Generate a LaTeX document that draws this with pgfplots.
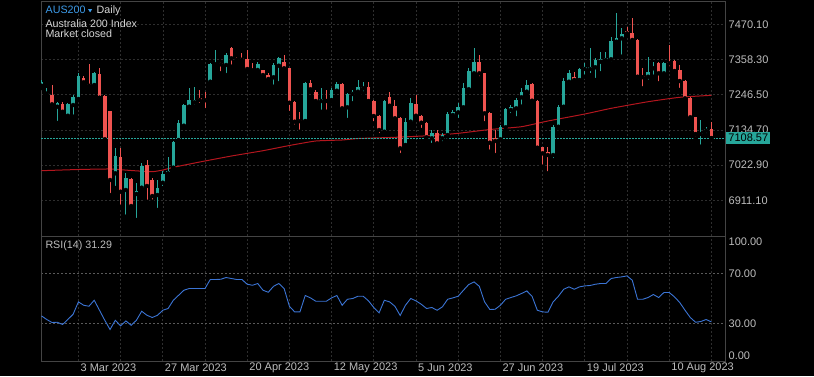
\documentclass[border=0pt]{standalone}
\usepackage{pgfplots}
\pgfplotsset{compat=1.18}
\usepackage{pgfplotstable}
\usepackage{fontspec}
\setmainfont{Liberation Sans}
\definecolor{upc}{HTML}{26A69A}
\definecolor{dnc}{HTML}{EF5350}
\definecolor{mac}{HTML}{B3161E}
\definecolor{rsic}{HTML}{3B74D4}
\definecolor{gridc}{HTML}{2E2E2E}
\definecolor{rsigrid}{HTML}{5A5A5A}
\definecolor{framec}{HTML}{444444}
\definecolor{labc}{HTML}{BDBDBD}
\definecolor{headc}{HTML}{D6D6D6}
\definecolor{tickerc}{HTML}{3D9BE9}

% up (teal) candles: index open high low close
\pgfplotstableread{
x o h l c
-7 7275.1 7293.2 7267.8 7287.8
-6 7250.3 7267.8 7239.2 7253.5
-4 7208.4 7224.3 7156.7 7219.2
-2 7179.8 7220.2 7175.7 7217.0
-1 7213.8 7245.6 7176.7 7240.2
0 7232.9 7314.5 7229.7 7306.9
3 7277.3 7319.6 7271.9 7316.4
7 6996.9 7077.3 6950.2 7051.8
9 6943.9 6997.9 6859.1 6982.9
11 6931.2 6966.1 6848.6 6941.6
12 6951.2 7029.6 6943.9 7021.0
15 6928.0 6975.6 6880.3 6949.3
16 6967.0 7004.2 6950.2 6994.7
17 6996.9 7049.6 6994.7 7004.2
18 7014.7 7099.5 7013.7 7095.4
19 7102.7 7166.2 7099.5 7156.7
20 7148.1 7217.0 7144.0 7213.8
21 7208.4 7266.9 7207.5 7229.7
22 7222.4 7271.9 7208.4 7229.7
25 7287.8 7348.2 7282.7 7343.1
26 7343.1 7388.5 7340.9 7346.3
28 7340.9 7379.0 7309.1 7372.6
34 7325.0 7351.3 7319.6 7344.0
37 7301.8 7346.3 7271.9 7340.9
38 7338.6 7367.2 7282.7 7362.1
43 7163.0 7287.8 7160.8 7284.6
46 7226.5 7266.9 7192.5 7232.9
48 7229.7 7266.9 7224.3 7261.5
49 7259.2 7287.8 7256.1 7280.5
51 7206.5 7251.0 7166.2 7248.8
52 7248.8 7261.5 7219.2 7256.1
53 7256.1 7293.2 7251.0 7270.0
54 7266.9 7287.8 7251.0 7270.0
58 7129.0 7229.7 7123.9 7226.5
62 7086.8 7171.6 7081.4 7160.8
63 7160.8 7235.1 7150.3 7221.1
67 7108.1 7134.4 7086.8 7125.8
69 7108.1 7123.9 7092.2 7118.5
70 7118.5 7192.5 7113.1 7185.2
71 7182.1 7197.9 7176.7 7192.5
72 7190.6 7219.2 7166.2 7208.4
73 7206.5 7282.7 7197.9 7266.9
74 7263.7 7330.4 7261.5 7322.8
75 7314.5 7393.9 7303.7 7349.4
80 7104.9 7150.3 7102.7 7143.0
81 7143.0 7203.3 7134.4 7200.2
82 7197.9 7213.8 7182.1 7206.5
83 7203.3 7235.1 7171.6 7229.7
84 7238.3 7266.9 7208.4 7256.1
85 7256.1 7293.2 7251.0 7277.3
90 7055.0 7150.3 7039.1 7144.9
91 7144.9 7213.8 7139.8 7208.4
92 7208.4 7298.6 7203.3 7291.0
93 7287.8 7325.0 7282.7 7316.4
95 7293.2 7330.4 7287.8 7327.2
96 7328.2 7346.3 7303.7 7335.5
97 7328.2 7393.9 7309.1 7335.5
98 7333.6 7362.1 7293.2 7356.7
99 7351.3 7383.1 7314.5 7359.0
100 7356.7 7383.1 7351.3 7364.0
101 7359.0 7430.7 7346.3 7417.1
102 7414.9 7505.1 7409.8 7427.6
103 7425.7 7457.4 7367.2 7439.3
108 7303.7 7367.2 7287.8 7317.7
109 7330.4 7351.3 7303.7 7335.5
111 7314.5 7351.3 7309.1 7348.2
118 7121.7 7166.2 7081.4 7125.8
119 7132.2 7144.9 7118.5 7137.6
}\upt

% down (red) candles: index open high low close
\pgfplotstableread{
x o h l c
-5 7245.6 7277.3 7204.3 7216.0
-3 7217.0 7223.4 7182.1 7192.5
1 7300.5 7305.9 7277.3 7285.9
2 7279.6 7344.0 7271.9 7275.1
4 7311.3 7331.3 7236.1 7237.0
5 7242.4 7245.6 7102.7 7104.9
6 7194.8 7196.0 6928.0 6975.6
8 7048.7 7077.3 6890.8 6938.5
10 6978.8 6982.0 6889.9 6893.0
13 7023.3 7039.1 6906.7 6956.6
14 6975.6 6982.0 6906.7 6924.8
23 7235.1 7261.5 7213.8 7229.7
24 7231.9 7256.1 7197.9 7228.8
27 7348.2 7351.3 7314.5 7343.1
29 7393.9 7399.0 7335.5 7362.1
30 7362.1 7366.3 7353.6 7357.7
31 7362.1 7379.0 7347.2 7357.7
32 7359.0 7388.5 7319.6 7328.2
33 7328.2 7346.3 7319.6 7324.0
35 7325.0 7326.0 7303.7 7309.1
36 7309.1 7314.5 7293.2 7296.4
39 7351.3 7372.6 7327.2 7330.4
40 7330.4 7331.3 7188.4 7221.1
41 7224.3 7225.5 7144.9 7160.8
42 7165.5 7192.5 7129.0 7162.4
44 7284.6 7293.2 7256.1 7263.7
45 7256.1 7261.5 7219.2 7226.5
47 7229.7 7261.5 7192.5 7226.5
50 7280.5 7282.7 7197.9 7203.3
55 7270.0 7287.8 7224.3 7226.5
56 7226.5 7229.7 7155.7 7178.9
57 7178.9 7182.1 7118.5 7134.4
59 7238.3 7256.1 7208.4 7211.6
60 7211.6 7229.7 7160.8 7171.6
61 7171.6 7176.7 7055.0 7076.3
64 7216.0 7245.6 7171.6 7179.8
65 7179.8 7182.1 7134.4 7157.6
66 7157.6 7160.8 7102.7 7111.2
68 7125.8 7134.4 7086.8 7092.2
76 7349.4 7372.6 7298.6 7314.5
77 7314.5 7316.0 7155.7 7187.5
78 7187.5 7192.5 7065.5 7094.1
79 7108.1 7134.4 7055.0 7099.5
86 7280.5 7282.7 7224.3 7227.5
87 7227.5 7229.7 7070.9 7078.2
88 7079.5 7081.4 7017.9 7060.4
89 7065.5 7081.4 6996.9 7055.0
94 7301.8 7319.6 7287.8 7293.2
104 7448.8 7462.5 7436.1 7441.5
105 7441.5 7489.2 7414.9 7420.3
106 7420.3 7422.5 7298.6 7303.7
107 7305.3 7330.4 7266.9 7302.1
110 7348.2 7351.3 7282.7 7314.5
112 7351.3 7404.4 7330.4 7346.3
113 7354.5 7356.7 7309.1 7321.8
114 7325.0 7340.9 7261.5 7290.0
115 7290.0 7293.2 7229.7 7235.1
116 7235.1 7240.2 7171.6 7174.8
117 7174.8 7176.7 7108.1 7121.7
120 7136.6 7160.8 7108.1 7108.6
}\dnt

% moving average
\pgfplotstableread{
x v
-7 7005.2
0 7009.0
6 7010.6
10 7005.8
14 7002.0
16 7007.4
18 7015.9
23 7032.8
29 7051.8
35 7068.7
40 7085.2
45 7099.5
50 7102.7
53 7107.4
60 7111.2
67 7116.9
72 7123.9
78 7136.0
84 7144.9
89 7163.0
96 7185.2
101 7203.3
108 7224.3
114 7238.3
120 7244.6
}\mat

% RSI(14)
\pgfplotstableread{
x r
-7 36.1
-6 33.2
-5 30.8
-4 31.0
-3 29.2
-2 33.2
-1 37.4
0 47.3
1 44.6
2 43.8
3 48.6
4 40.6
5 32.6
6 25.2
7 32.6
8 28.1
9 32.1
10 28.6
11 32.6
12 39.8
13 36.6
14 34.8
15 36.6
16 40.6
17 42.0
18 48.6
19 52.6
20 56.6
21 58.0
22 58.0
23 58.0
24 58.0
25 65.2
26 65.2
27 65.4
28 66.8
29 66.0
30 65.2
31 65.2
32 61.4
33 60.6
34 62.0
35 56.6
36 55.0
37 59.8
38 62.0
39 58.0
40 43.8
41 39.3
42 39.3
43 52.4
44 50.5
45 47.8
46 47.8
47 47.8
48 50.5
49 52.4
50 44.6
51 49.4
52 50.0
53 51.8
54 51.8
55 48.1
56 42.8
57 38.5
58 48.6
59 47.3
60 43.8
61 36.4
62 44.6
63 50.0
64 48.1
65 45.4
66 42.0
67 42.8
68 40.6
69 43.3
70 49.4
71 50.5
72 51.8
73 56.6
74 61.2
75 63.3
76 59.8
77 47.3
78 41.2
79 41.4
80 44.6
81 49.4
82 50.8
83 52.1
84 54.0
85 56.1
86 51.8
87 40.6
88 39.3
89 39.0
90 47.3
91 51.8
92 57.4
93 59.3
94 57.4
95 59.3
96 60.1
97 60.4
98 61.4
99 62.0
100 62.0
101 66.0
102 66.8
103 67.3
104 68.1
105 64.6
106 49.4
107 49.4
108 50.8
109 53.2
110 50.8
111 54.8
112 54.8
113 51.3
114 46.8
115 40.6
116 34.8
117 31.0
118 31.6
119 33.2
120 31.29
}\rsit

\begin{document}
\begin{tikzpicture}[x=1pt,y=1pt]
\fill[black] (0,0) rectangle (814,376);
\useasboundingbox (0,0) rectangle (814,376);

\begin{axis}[
  at={(41pt,140pt)}, anchor=south west,
  scale only axis, width=684pt, height=235pt,
  xmin=-7.09, xmax=122.58, ymin=6797.8, ymax=7544.1,
  axis line style={framec, line width=0.8pt},
  xtick={0,8,...,120}, xticklabels={},
  ytick={6911.1,7022.9,7134.7,7246.5,7358.3,7470.1},
  yticklabel pos=right,
  major tick length=0pt,
  xmajorgrids, ymajorgrids,
  major grid style={gridc, dash pattern=on 2pt off 2pt, line width=0.6pt},
  /pgf/number format/assume math mode=true,
  yticklabel style={/pgf/number format/fixed, /pgf/number format/fixed zerofill,
    /pgf/number format/precision=2, /pgf/number format/1000 sep={},
    anchor=west, inner sep=0pt, xshift=3.5pt},
  tick label style={font=\fontsize{11}{13}\selectfont, color=labc},
]
% moving average
\addplot[mac, line width=1pt, smooth, tension=0.3] table[x=x, y=v] {\mat};
% current price line
\addplot[upc, line width=0.7pt, dash pattern=on 1.5pt off 1.5pt] coordinates {(-7.09,7108.57) (122.58,7108.57)};
% wicks
\addplot[only marks, mark=none, forget plot,
  error bars/.cd, y dir=plus, y explicit, error mark=none,
  error bar style={draw=upc, line width=0.9pt}]
  table[x=x, y=l, y error plus expr=\thisrow{h}-\thisrow{l}] {\upt};
\addplot[only marks, mark=none, forget plot,
  error bars/.cd, y dir=plus, y explicit, error mark=none,
  error bar style={draw=dnc, line width=0.9pt}]
  table[x=x, y=l, y error plus expr=\thisrow{h}-\thisrow{l}] {\dnt};
% bodies
\addplot[only marks, mark=none, forget plot,
  error bars/.cd, y dir=plus, y explicit, error mark=none,
  error bar style={draw=upc, line width=3.6pt}]
  table[x=x, y=o, y error plus expr=\thisrow{c}-\thisrow{o}] {\upt};
\addplot[only marks, mark=none, forget plot,
  error bars/.cd, y dir=plus, y explicit, error mark=none,
  error bar style={draw=dnc, line width=3.6pt}]
  table[x=x, y=c, y error plus expr=\thisrow{o}-\thisrow{c}] {\dnt};
\end{axis}

\begin{axis}[
  at={(41pt,15pt)}, anchor=south west,
  scale only axis, width=684pt, height=125pt,
  xmin=-7.09, xmax=122.58, ymin=0, ymax=100,
  axis line style={framec, line width=0.8pt},
  xtick={0,8,...,120}, xticklabels={},
  ytick={30,70}, yticklabels={30.00,70.00},
  extra y ticks={95.4,4.1}, extra y tick labels={100.00,0.00},
  extra y tick style={grid=none},
  extra x ticks={0,16,...,112},
  extra x tick labels={3 Mar 2023,27 Mar 2023,20 Apr 2023,12 May 2023,5 Jun 2023,27 Jun 2023,19 Jul 2023,10 Aug 2023},
  extra x tick style={grid=none, xticklabel style={anchor=west, inner sep=0pt, xshift=2pt, yshift=-6.5pt}},
  yticklabel pos=right,
  major tick length=0pt,
  xmajorgrids, ymajorgrids,
  x grid style={gridc, dash pattern=on 2pt off 2pt, line width=0.6pt},
  y grid style={rsigrid, dash pattern=on 2pt off 2pt, line width=0.6pt},
  yticklabel style={anchor=west, inner sep=0pt, xshift=3.5pt},
  tick label style={font=\fontsize{11}{13}\selectfont, color=labc},
]
\addplot[rsic, line width=0.9pt] table[x=x, y=r] {\rsit};
\end{axis}

% price tag (current price 7108.57)
\fill[upc] (726,231.6) rectangle (770,244.3);
\node[anchor=west, inner sep=0pt, text=black, font=\fontsize{11}{13}\selectfont] at (728.2,237.8) {7108.57};

% header texts
\node[anchor=base west, inner sep=0pt, text=tickerc, font=\fontsize{10.7}{12}\selectfont] at (45.5,362.7) {AUS200};
\fill[tickerc] (88,367) -- (92.2,367) -- (90.1,363.6) -- cycle;
\node[anchor=base west, inner sep=0pt, text=headc, font=\fontsize{10.7}{12}\selectfont] at (96.5,362.7) {Daily};
\node[anchor=base west, inner sep=0pt, text=headc, font=\fontsize{10.7}{12}\selectfont] at (45.3,348.7) {Australia 200 Index};
\node[anchor=base west, inner sep=0pt, text=headc, font=\fontsize{10.7}{12}\selectfont] at (45.3,338) {Market closed};
\node[anchor=base west, inner sep=0pt, text=labc, font=\fontsize{10.7}{12}\selectfont] at (45.3,128) {RSI(14) 31.29};
\end{tikzpicture}
\end{document}
